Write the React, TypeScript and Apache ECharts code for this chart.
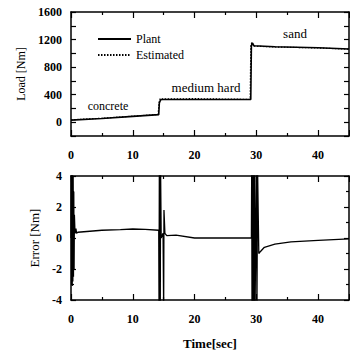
import React, { useEffect, useRef } from "react";
import * as echarts from "echarts";

// Load plot (top): time [sec] and load [Nm]
const plantTime = [0, 5, 10, 14.2, 14.3, 14.5, 14.8, 20, 29.1, 29.2, 29.35, 29.6, 33, 40, 45];
const plantLoad = [30, 55, 85, 110, 280, 325, 330, 330, 330, 1110, 1150, 1110, 1095, 1080, 1062];
const estTime = [0, 5, 10, 14.1, 14.25, 14.45, 14.8, 20, 29.0, 29.1, 29.3, 29.6, 33, 40, 45];
const estLoad = [35, 58, 88, 112, 290, 345, 338, 342, 332, 1115, 1160, 1105, 1092, 1078, 1060];

// Error plot (bottom): time [sec] and error [Nm]
const errTime = [
  0, 0.05, 0.1, 0.15, 0.2, 0.25, 0.3, 0.35, 0.4, 0.45, 0.5, 0.55, 0.65, 0.8, 0.9, 1.1, 5, 8, 10, 12, 14.2,
  14.25, 14.3, 14.35, 14.4, 14.45, 14.5, 14.6, 14.9, 15.0, 15.05, 15.2, 15.5, 17, 20, 29.2,
  29.25, 29.3, 29.35, 29.4, 29.5, 29.6, 29.7, 29.8, 30.0, 30.1, 30.2, 30.4, 30.6, 31.3, 33, 35.6, 40, 45,
];
const errValue = [
  0, 4.5, -3, 4.5, -3.1, 4.5, -2.8, 4, -2.5, 3, -2, 1.5, 0.3, 0.6, 0.3, 0.37, 0.5, 0.54, 0.58, 0.56, 0.5,
  -4.5, 4.5, -4.5, 4.5, -4.5, 4.5, 0, 0.3, -4.5, 1.8, 0.3, 0.15, 0.18, 0.0, 0.0,
  4.5, -4.5, 4.5, -4.5, 4.5, -4.5, 4.5, -4.5, 4.5, -4.5, 4.5, -1, -0.9, -0.6, -0.4, -0.25, -0.15, -0.05,
];

const loadTicks = { min: -200, max: 1600, interval: 200 };
const errTicks = { min: -4, max: 4, interval: 2 };
const timeTicks = { min: 0, max: 45, interval: 10 };

const FONT = "Liberation Serif";

export default function App() {
  const ref = useRef<HTMLDivElement>(null);
  useEffect(() => {
    if (!ref.current) return;
    const chart = echarts.init(ref.current, null, { renderer: "svg" });
    const axisLine = { show: true, onZero: false, lineStyle: { color: "#000", width: 1.5 } };
    const labelStyle = { color: "#000", fontFamily: FONT, fontSize: 12, fontWeight: "bold" as const };
    const xCommon = (gridIndex: number, position: string, labels: boolean, extra: any = {}) => ({
      type: "value",
      gridIndex,
      position,
      min: timeTicks.min,
      max: timeTicks.max,
      interval: timeTicks.interval,
      axisLine,
      axisTick: { show: true, inside: true, length: 6, lineStyle: { color: "#000", width: 1.2 } },
      minorTick: { show: true, splitNumber: 2, length: 3, lineStyle: { color: "#000", width: 1.2 } },
      splitLine: { show: false },
      axisLabel: { show: labels, margin: 13, showMaxLabel: false, ...labelStyle },
      ...extra,
    });
    const yCommon = (gridIndex: number, position: string, labels: boolean, t: any, fmt: any, extra: any = {}) => ({
      type: "value",
      gridIndex,
      position,
      min: t.min,
      max: t.max,
      interval: t.interval,
      axisLine,
      axisTick: { show: true, inside: true, length: 5, lineStyle: { color: "#000", width: 1.2 } },
      splitLine: { show: false },
      axisLabel: { show: labels, margin: 9, formatter: fmt, ...labelStyle },
      ...extra,
    });
    const loadFmt = (v: number) => (v % 400 === 0 ? String(v) : "");
    const errFmt = (v: number) => String(v);
    chart.setOption({
      animation: false,
      backgroundColor: "#fff",
      grid: [
        { left: 71, top: 12, width: 278, height: 124 },
        { left: 71, top: 176, width: 278, height: 125 },
      ],
      legend: {
        data: ["Plant", "Estimated"],
        orient: "vertical",
        left: 92,
        top: 28,
        itemWidth: 33,
        itemHeight: 12,
        itemGap: 4,
        itemStyle: { opacity: 0 },
        textStyle: { color: "#000", fontFamily: FONT, fontSize: 12 },
      },
      xAxis: [
        xCommon(0, "bottom", true),
        xCommon(0, "top", false),
        xCommon(1, "bottom", true, {
          name: "Time[sec]",
          nameLocation: "middle",
          nameGap: 37,
          nameTextStyle: { color: "#000", fontFamily: FONT, fontSize: 13, fontWeight: "bold" },
        }),
        xCommon(1, "top", false),
      ],
      yAxis: [
        yCommon(0, "left", true, loadTicks, loadFmt, {
          name: "Load [Nm]",
          nameLocation: "middle",
          nameRotate: 90,
          nameGap: 43,
          nameTextStyle: { color: "#000", fontFamily: FONT, fontSize: 12 },
        }),
        yCommon(0, "right", false, loadTicks, loadFmt),
        yCommon(1, "left", true, errTicks, errFmt, {
          minorTick: { show: true, splitNumber: 2, length: 3, lineStyle: { color: "#000", width: 1.2 } },
          name: "Error [Nm]",
          nameLocation: "middle",
          nameRotate: 90,
          nameGap: 28,
          nameTextStyle: { color: "#000", fontFamily: FONT, fontSize: 13 },
        }),
        yCommon(1, "right", false, errTicks, errFmt, {
          minorTick: { show: true, splitNumber: 2, length: 3, lineStyle: { color: "#000", width: 1.2 } },
        }),
      ],
      series: [
        {
          name: "Plant",
          type: "line",
          xAxisIndex: 0,
          yAxisIndex: 0,
          symbol: "none",
          lineStyle: { color: "#000", width: 1.6 },
          itemStyle: { color: "#000" },
          data: plantTime.map((t, i) => [t, plantLoad[i]]),
          z: 3,
        },
        {
          name: "Estimated",
          type: "line",
          xAxisIndex: 0,
          yAxisIndex: 0,
          symbol: "none",
          lineStyle: { color: "#000", width: 1.2, type: [1.5, 1.5] },
          itemStyle: { color: "#000" },
          data: estTime.map((t, i) => [t, estLoad[i]]),
          z: 2,
        },
        {
          name: "Error",
          type: "line",
          xAxisIndex: 2,
          yAxisIndex: 2,
          symbol: "none",
          clip: true,
          lineStyle: { color: "#000", width: 1.3 },
          data: errTime.map((t, i) => [t, errValue[i]]),
        },
      ],
      graphic: [
        { type: "text", x: 108, y: 106, style: { text: "concrete", fill: "#000", font: `12px "${FONT}"`, textAlign: "center", textVerticalAlign: "middle" } },
        { type: "text", x: 206, y: 87, style: { text: "medium hard", fill: "#000", font: `13px "${FONT}"`, textAlign: "center", textVerticalAlign: "middle" } },
        { type: "text", x: 295, y: 33, style: { text: "sand", fill: "#000", font: `13px "${FONT}"`, textAlign: "center", textVerticalAlign: "middle" } },
      ],
    });
    return () => chart.dispose();
  }, []);
  return <div ref={ref} style={{ width: 350, height: 351, position: "absolute", left: 0, top: 0 }} />;
}
